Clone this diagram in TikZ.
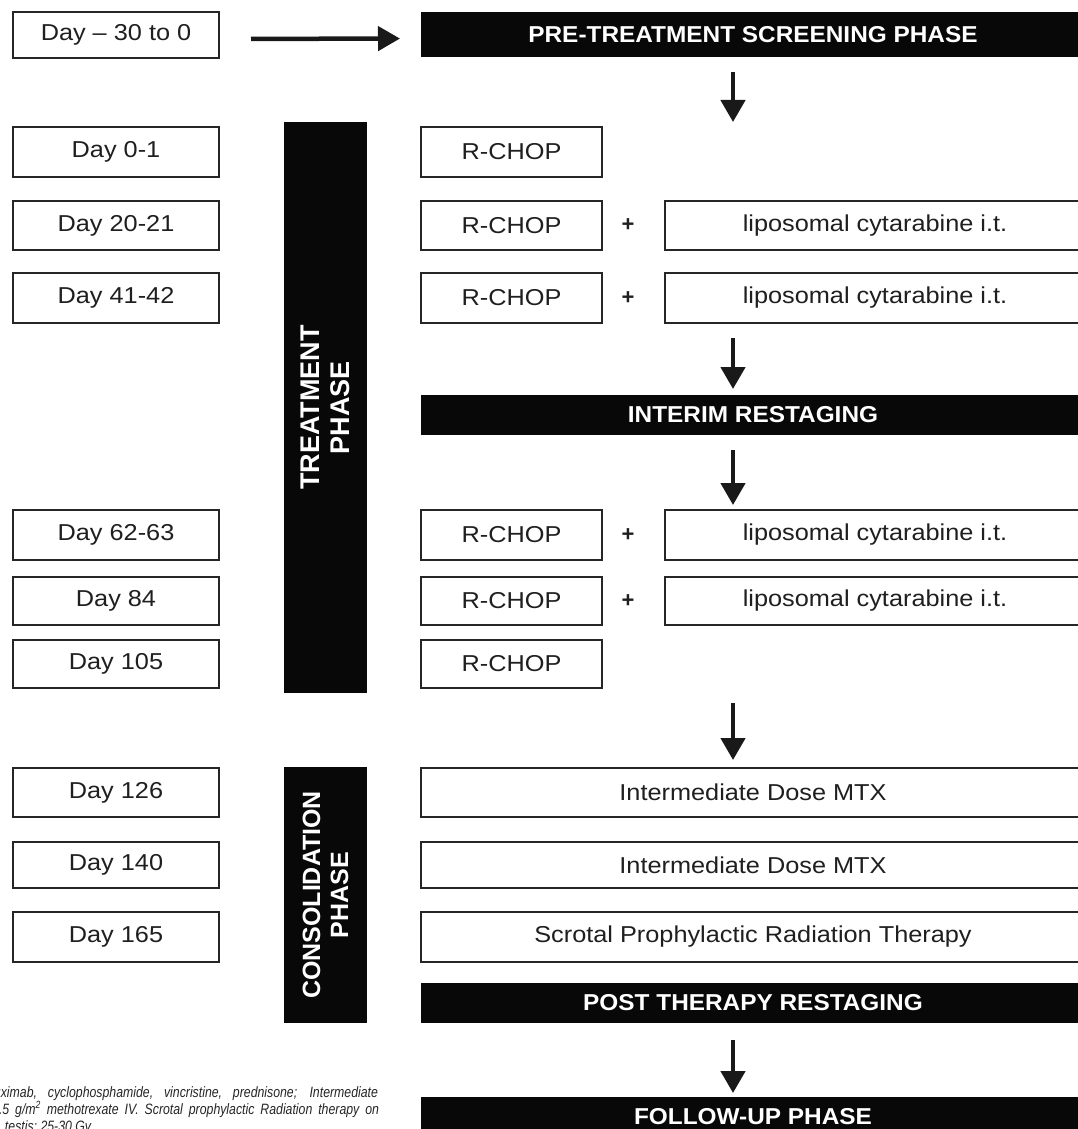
\documentclass[tikz,border=0pt]{standalone}
\usepackage{fontspec}
\setmainfont{Liberation Sans}
\newfontfamily\boxfont[FakeStretch=1.1,Ligatures=TeX]{Liberation Sans}
\newfontfamily\barfont[FakeStretch=1.06,Ligatures=TeX]{Liberation Sans}
\newfontfamily\notefont[FakeStretch=0.82,Ligatures=TeX]{Liberation Sans}
\usetikzlibrary{arrows.meta}
\begin{document}
\begin{tikzpicture}[x=1pt,y=-1pt,
  every node/.style={inner sep=0pt, outer sep=0pt},
  txt/.style={font=\boxfont\fontsize{23}{27}\selectfont, text=black!88},
  dbox/.style={txt, draw=black!85, line width=2.5pt, fill=white, anchor=north west, minimum width=206pt},
  rbox/.style={dbox, minimum width=181pt},
  lbox/.style={dbox, minimum width=420pt},
  wbox/.style={dbox, minimum width=664pt},
  bar/.style={fill=black!97, text=white, font=\barfont\bfseries\fontsize{23}{27}\selectfont, anchor=north west, minimum width=664pt},
  vbar/.style={fill=black!97, text=white, rotate=90, align=center, minimum height=83pt},
  plus/.style={txt, font=\bfseries\fontsize{22}{26}\selectfont},
  arr/.style={line width=4.5pt, draw=black!90, -{Triangle[length=22pt,width=24pt]}},
  note/.style={font=\notefont\itshape\fontsize{15}{17}\selectfont, text=black!85}
]
\useasboundingbox (0,0) rectangle (1078,1129);
\clip (0,0) rectangle (1078,1129);
\fill[white] (0,0) rectangle (1078,1129);

% left day boxes
\node[dbox, minimum height=46pt] (d0) at (13,12) {Day – 30 to 0};
\node[dbox, minimum height=50pt] (d1) at (13,127) {Day 0-1};
\node[dbox, minimum height=49pt] (d2) at (13,201) {Day 20-21};
\node[dbox, minimum height=50pt] (d3) at (13,273) {Day 41-42};
\node[dbox, minimum height=50pt] (d4) at (13,510) {Day 62-63};
\node[dbox, minimum height=48pt] (d5) at (13,577) {Day 84};
\node[dbox, minimum height=48pt] (d6) at (13,640) {Day 105};
\node[dbox, minimum height=49pt] (d7) at (13,768) {Day 126};
\node[dbox, minimum height=46pt] (d8) at (13,842) {Day 140};
\node[dbox, minimum height=50pt] (d9) at (13,912) {Day 165};

% phase bars (vertical)
\node[vbar, minimum width=571pt, font=\bfseries\fontsize{27}{30}\selectfont] (tp) at (325.5,407.5) {TREATMENT\\PHASE};
\node[vbar, minimum width=256pt, font=\bfseries\fontsize{25}{28}\selectfont] (cp) at (325.5,895) {CONSOLIDATION\\PHASE};

% right column
\node[bar, minimum height=45pt] (pre) at (421,12) {PRE-TREATMENT SCREENING PHASE};
\node[rbox, minimum height=50pt] (r1) at (421,127) {R-CHOP};
\node[rbox, minimum height=49pt] (r2) at (421,201) {R-CHOP};
\node[plus] (p2) at (628,225.5) {+};
\node[lbox, minimum height=49pt] (l2) at (665,201) {liposomal cytarabine i.t.};
\node[rbox, minimum height=50pt] (r3) at (421,273) {R-CHOP};
\node[plus] (p3) at (628,298) {+};
\node[lbox, minimum height=50pt] (l3) at (665,273) {liposomal cytarabine i.t.};
\node[bar, minimum height=40pt] (int) at (421,395) {INTERIM RESTAGING};
\node[rbox, minimum height=50pt] (r4) at (421,510) {R-CHOP};
\node[plus] (p4) at (628,535) {+};
\node[lbox, minimum height=50pt] (l4) at (665,510) {liposomal cytarabine i.t.};
\node[rbox, minimum height=48pt] (r5) at (421,577) {R-CHOP};
\node[plus] (p5) at (628,601) {+};
\node[lbox, minimum height=48pt] (l5) at (665,577) {liposomal cytarabine i.t.};
\node[rbox, minimum height=48pt] (r6) at (421,640) {R-CHOP};
\node[wbox, minimum height=49pt] (m1) at (421,768) {Intermediate Dose MTX};
\node[wbox, minimum height=46pt] (m2) at (421,842) {Intermediate Dose MTX};
\node[wbox, minimum height=50pt] (sc) at (421,912) {Scrotal Prophylactic Radiation Therapy};
\node[bar, minimum height=40pt] (post) at (421,983) {POST THERAPY RESTAGING};
\node[bar, minimum height=40pt] (fol) at (421,1097) {FOLLOW-UP PHASE};

% arrows
\coordinate (ax) at (733,0);
\draw[arr, shorten <=32pt, shorten >=21pt] ([yshift=-4pt]d0.east) -- ([yshift=-4pt]pre.west);
\draw[arr, shorten <=15pt, shorten >=5pt] (pre.south -| ax) -- (r1.north -| ax);
\draw[arr, shorten <=15pt, shorten >=6pt] (l3.south -| ax) -- (int.north -| ax);
\draw[arr, shorten <=15pt, shorten >=5pt] (int.south -| ax) -- (l4.north -| ax);
\draw[arr, shorten <=15pt, shorten >=8pt] (r6.south -| ax) -- (m1.north -| ax);
\draw[arr, shorten <=17pt, shorten >=4pt] (post.south -| ax) -- (fol.north -| ax);

% footnote (cut off by the picture edge, as in the reference)
\node[note, anchor=base east] (n1) at (378,1097) {\makebox[384pt][s]{uximab, cyclophosphamide, vincristine, prednisone; Intermediate}};
\node[note, anchor=base east] (n2) at (379,1114) {\makebox[380pt][s]{.5 g/m\textsuperscript{2} methotrexate IV. Scrotal prophylactic Radiation therapy on}};
\node[note, anchor=base west] (n3) at (5,1131) {testis; 25-30 Gy};
\end{tikzpicture}
\end{document}
